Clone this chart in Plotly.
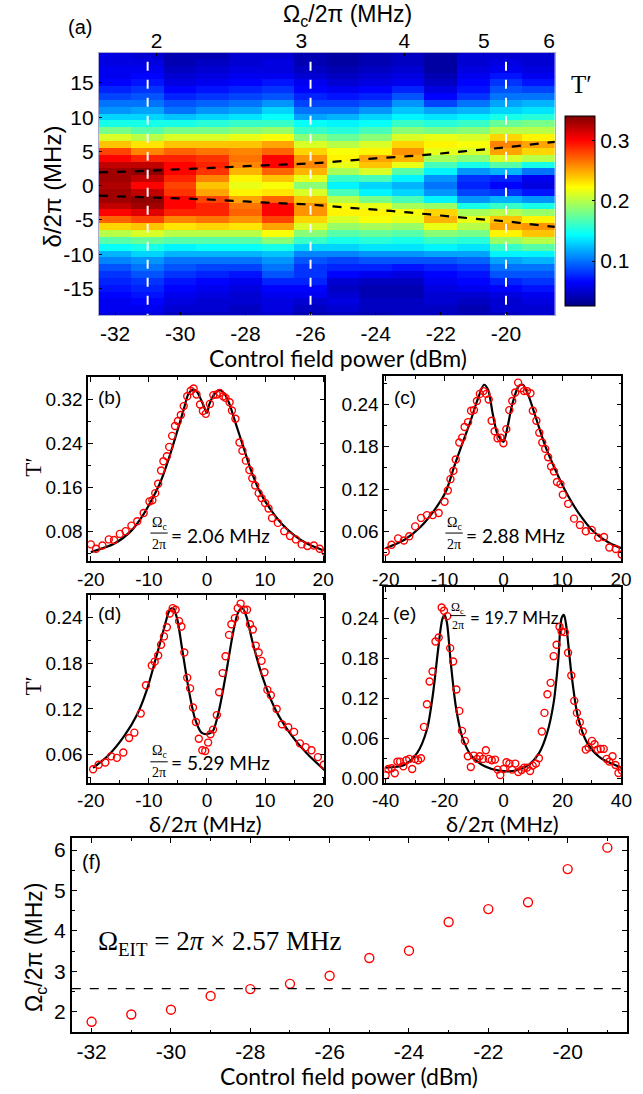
import plotly.graph_objects as go

FIG_W, FIG_H = 643, 1094


def px(x):
    return x / FIG_W


def py(y):
    return 1 - y / FIG_H


SANS = "Liberation Sans"
TITLE_FONT = "Lato"
SERIF = "Liberation Serif"

# ---------------- (a) transmission map ----------------
power_dbm = [-32, -31, -30, -29, -28, -27, -26, -25, -24, -23, -22, -21, -20, -19]
detuning = [19, 18, 17, 16, 15, 14, 13, 12, 11, 10, 9, 8, 7, 6, 5, 4, 3, 2, 1, 0,
            -1, -2, -3, -4, -5, -6, -7, -8, -9, -10, -11, -12, -13, -14, -15, -16, -17, -18, -19]

# one list per control power, T' from delta = +19 down to -19 MHz
t_map_columns = [
    [0.055, 0.055, 0.06, 0.06, 0.065, 0.075, 0.085, 0.10, 0.11, 0.13, 0.15, 0.18, 0.21, 0.24, 0.28,
     0.30, 0.32, 0.33, 0.33, 0.325, 0.33, 0.33, 0.32, 0.30, 0.27, 0.235, 0.20, 0.17, 0.145, 0.12,
     0.105, 0.09, 0.08, 0.075, 0.07, 0.065, 0.06, 0.06, 0.055],
    [0.05, 0.055, 0.06, 0.065, 0.07, 0.08, 0.09, 0.10, 0.115, 0.13, 0.15, 0.17, 0.20, 0.23, 0.26,
     0.29, 0.32, 0.335, 0.32, 0.30, 0.32, 0.335, 0.33, 0.31, 0.28, 0.24, 0.21, 0.175, 0.15, 0.13,
     0.11, 0.10, 0.09, 0.08, 0.075, 0.07, 0.065, 0.06, 0.055],
    [0.04, 0.04, 0.045, 0.05, 0.055, 0.065, 0.075, 0.09, 0.10, 0.125, 0.15, 0.18, 0.21, 0.24, 0.27,
     0.29, 0.30, 0.30, 0.29, 0.28, 0.285, 0.30, 0.30, 0.29, 0.26, 0.23, 0.20, 0.17, 0.14, 0.12,
     0.10, 0.09, 0.08, 0.07, 0.065, 0.06, 0.055, 0.05, 0.045],
    [0.04, 0.045, 0.05, 0.055, 0.06, 0.07, 0.08, 0.095, 0.11, 0.13, 0.155, 0.18, 0.21, 0.24, 0.265,
     0.285, 0.29, 0.285, 0.26, 0.24, 0.25, 0.28, 0.29, 0.29, 0.265, 0.235, 0.20, 0.17, 0.145, 0.12,
     0.10, 0.085, 0.075, 0.065, 0.06, 0.055, 0.05, 0.05, 0.045],
    [0.05, 0.05, 0.055, 0.06, 0.065, 0.075, 0.085, 0.10, 0.115, 0.135, 0.16, 0.185, 0.215, 0.24, 0.26,
     0.265, 0.26, 0.245, 0.225, 0.215, 0.225, 0.25, 0.265, 0.27, 0.255, 0.23, 0.20, 0.17, 0.145, 0.12,
     0.10, 0.085, 0.07, 0.06, 0.055, 0.05, 0.05, 0.045, 0.045],
    [0.05, 0.055, 0.055, 0.06, 0.07, 0.08, 0.09, 0.11, 0.13, 0.145, 0.16, 0.19, 0.22, 0.25, 0.27,
     0.30, 0.30, 0.27, 0.24, 0.22, 0.23, 0.27, 0.30, 0.30, 0.28, 0.25, 0.22, 0.185, 0.15, 0.125,
     0.11, 0.10, 0.09, 0.075, 0.065, 0.06, 0.055, 0.055, 0.05],
    [0.04, 0.04, 0.045, 0.05, 0.06, 0.065, 0.075, 0.085, 0.10, 0.115, 0.145, 0.16, 0.185, 0.21, 0.235,
     0.255, 0.26, 0.245, 0.215, 0.185, 0.21, 0.24, 0.255, 0.255, 0.235, 0.21, 0.185, 0.16, 0.13, 0.105,
     0.09, 0.08, 0.08, 0.075, 0.065, 0.06, 0.05, 0.045, 0.04],
    [0.035, 0.035, 0.04, 0.045, 0.05, 0.06, 0.07, 0.085, 0.10, 0.12, 0.14, 0.155, 0.175, 0.20, 0.22,
     0.225, 0.215, 0.195, 0.16, 0.14, 0.165, 0.20, 0.22, 0.225, 0.21, 0.19, 0.17, 0.15, 0.13, 0.105,
     0.085, 0.075, 0.065, 0.05, 0.045, 0.05, 0.055, 0.05, 0.045],
    [0.04, 0.04, 0.045, 0.05, 0.055, 0.065, 0.075, 0.09, 0.11, 0.13, 0.145, 0.165, 0.185, 0.21, 0.225,
     0.25, 0.24, 0.21, 0.165, 0.13, 0.14, 0.18, 0.215, 0.225, 0.22, 0.195, 0.175, 0.155, 0.135, 0.11,
     0.09, 0.075, 0.06, 0.045, 0.04, 0.04, 0.045, 0.045, 0.04],
    [0.045, 0.045, 0.05, 0.055, 0.06, 0.075, 0.09, 0.11, 0.125, 0.14, 0.16, 0.185, 0.21, 0.235, 0.255,
     0.245, 0.215, 0.17, 0.14, 0.12, 0.13, 0.165, 0.195, 0.22, 0.215, 0.19, 0.17, 0.15, 0.135, 0.11,
     0.09, 0.07, 0.055, 0.045, 0.04, 0.04, 0.045, 0.045, 0.045],
    [0.035, 0.035, 0.035, 0.04, 0.045, 0.055, 0.065, 0.085, 0.115, 0.135, 0.155, 0.18, 0.215, 0.225, 0.215,
     0.195, 0.165, 0.14, 0.11, 0.10, 0.11, 0.14, 0.19, 0.235, 0.245, 0.215, 0.185, 0.16, 0.14, 0.115,
     0.09, 0.075, 0.065, 0.06, 0.055, 0.05, 0.05, 0.045, 0.045],
    [0.05, 0.05, 0.055, 0.06, 0.065, 0.07, 0.08, 0.10, 0.12, 0.14, 0.16, 0.185, 0.21, 0.22, 0.21,
     0.185, 0.15, 0.11, 0.08, 0.075, 0.085, 0.11, 0.15, 0.195, 0.215, 0.20, 0.18, 0.155, 0.135, 0.115,
     0.095, 0.08, 0.07, 0.065, 0.06, 0.05, 0.045, 0.04, 0.04],
    [0.05, 0.055, 0.06, 0.07, 0.08, 0.09, 0.10, 0.115, 0.13, 0.15, 0.175, 0.20, 0.235, 0.26, 0.25,
     0.21, 0.17, 0.12, 0.075, 0.065, 0.08, 0.12, 0.16, 0.20, 0.24, 0.25, 0.225, 0.19, 0.16, 0.14,
     0.115, 0.10, 0.09, 0.075, 0.065, 0.055, 0.05, 0.05, 0.045],
    [0.05, 0.05, 0.055, 0.06, 0.07, 0.085, 0.10, 0.12, 0.135, 0.155, 0.18, 0.20, 0.225, 0.25, 0.235,
     0.20, 0.15, 0.10, 0.06, 0.055, 0.07, 0.11, 0.15, 0.19, 0.225, 0.255, 0.24, 0.20, 0.17, 0.14,
     0.12, 0.10, 0.09, 0.08, 0.07, 0.06, 0.055, 0.05, 0.05],
]

# peak positions traced over the map
split_power = [-32.5, -31, -30, -29, -28, -27, -26, -25, -24, -23, -22, -21, -20, -19, -18.5]
split_upper = [1.93, 2.17, 2.4, 2.6, 2.85, 3.05, 3.25, 3.6, 4.0, 4.3, 4.7, 5.15, 5.6, 6.15, 6.4]
split_lower = [-1.45, -1.7, -1.85, -2.05, -2.3, -2.55, -2.75, -3.15, -3.5, -3.9, -4.35, -4.8, -5.2, -5.75, -6.0]

# control powers of the line cuts shown in (b)-(d)
cut_power = [-31, -26, -20]

map_x_ticks = [-32, -30, -28, -26, -24, -22, -20]
map_x_labels = ["-32", "-30", "-28", "-26", "-24", "-22", "-20"]
map_y_ticks = [-15, -10, -5, 0, 5, 10, 15]
map_y_labels = ["-15", "-10", "-5", "0", "5", "10", "15"]
rabi_ticks = [2, 3, 4, 5, 6]
rabi_labels = ["2", "3", "4", "5", "6"]
cbar_ticks = [0.1, 0.2, 0.3]

# ---------------- (b)-(e) line cuts ----------------
b_det = [-20.0, -19.1, -18.0, -16.9, -16.0, -15.0, -14.0, -13.0, -12.0, -10.9,
         -9.9, -9.4, -8.9, -8.4, -7.9, -7.5, -6.9, -6.5, -6.0, -5.5,
         -5.0, -4.5, -4.0, -3.4, -2.8, -2.3, -1.8, -1.2, -0.7, -0.2,
         0.5, 1.1, 1.7, 2.2, 2.8, 3.2, 3.9, 4.3, 4.9, 5.6,
         6.1, 6.7, 7.3, 7.8, 8.3, 8.9, 9.4, 10.0, 10.6, 11.2,
         12.2, 13.3, 14.3, 15.3, 16.3, 17.3, 18.4, 19.4, 20.4]
b_t = [0.057, 0.049, 0.055, 0.066, 0.065, 0.076, 0.081, 0.091, 0.099, 0.114,
       0.135, 0.137, 0.150, 0.167, 0.191, 0.208, 0.217, 0.234, 0.254, 0.272,
       0.281, 0.292, 0.308, 0.326, 0.336, 0.340, 0.329, 0.311, 0.299, 0.294,
       0.312, 0.328, 0.329, 0.332, 0.326, 0.323, 0.315, 0.300, 0.285, 0.242,
       0.227, 0.209, 0.192, 0.177, 0.164, 0.150, 0.141, 0.132, 0.122, 0.105,
       0.096, 0.081, 0.072, 0.066, 0.057, 0.054, 0.055, 0.049, 0.043]
b_fit_det = [-20, -16, -13, -10.9, -9.25, -7.9, -6.5, -5.1, -4.0, -3.2,
             -2.4, -1.8, -0.9, 0.0, 0.4, 1.3, 2.2, 2.9, 3.8, 4.9,
             6.3, 7.6, 9.0, 10.7, 12.9, 15.1, 17.3, 20.1]
b_fit_t = [0.043, 0.058, 0.082, 0.112, 0.143, 0.173, 0.215, 0.263, 0.302, 0.330,
           0.338, 0.335, 0.317, 0.296, 0.311, 0.330, 0.337, 0.332, 0.314, 0.278,
           0.233, 0.191, 0.155, 0.124, 0.094, 0.073, 0.058, 0.046]

c_det = [-20.0, -19.0, -17.9, -16.9, -16.0, -15.0, -14.0, -13.0, -12.0, -11.0,
         -10.0, -9.45, -9.0, -8.5, -8.1, -7.5, -7.0, -6.6, -6.0, -5.5,
         -5.0, -4.5, -4.0, -3.4, -2.9, -2.5, -2.0, -1.5, -1.0, -0.5,
         0.0, 0.5, 1.0, 1.5, 2.0, 2.5, 3.0, 3.5, 4.0, 4.6,
         5.0, 5.6, 6.1, 6.6, 7.1, 7.6, 8.1, 8.6, 9.1, 9.7,
         10.1, 11.0, 12.0, 13.0, 14.0, 15.0, 16.1, 17.1, 18.0, 19.1, 20.1]
c_t = [0.031, 0.041, 0.050, 0.047, 0.053, 0.067, 0.079, 0.083, 0.083, 0.086,
       0.102, 0.118, 0.134, 0.146, 0.162, 0.186, 0.193, 0.208, 0.215, 0.231,
       0.232, 0.245, 0.255, 0.259, 0.255, 0.247, 0.217, 0.202, 0.192, 0.193,
       0.185, 0.205, 0.232, 0.245, 0.257, 0.271, 0.263, 0.259, 0.259, 0.256,
       0.231, 0.217, 0.200, 0.186, 0.177, 0.165, 0.152, 0.145, 0.130, 0.127,
       0.112, 0.099, 0.078, 0.069, 0.060, 0.062, 0.051, 0.052, 0.037, 0.035, 0.027]
c_fit_det = [-20, -16.8, -14.1, -11.4, -9.7, -8.4, -7.0, -5.6, -4.3, -3.3,
             -2.6, -1.8, -1.0, 0.0, 0.55, 1.5, 2.6, 3.3, 4.2, 5.6,
             7.2, 8.9, 10.5, 12.7, 15.4, 18.1, 20.1]
c_fit_t = [0.036, 0.048, 0.066, 0.094, 0.118, 0.151, 0.184, 0.216, 0.249, 0.268,
           0.261, 0.226, 0.198, 0.187, 0.202, 0.240, 0.266, 0.268, 0.254, 0.219,
           0.179, 0.146, 0.118, 0.087, 0.059, 0.043, 0.036]

d_det = [-19.6, -18.65, -17.5, -16.5, -15.5, -14.4, -13.4, -12.5, -11.4, -10.5,
         -9.5, -9.0, -8.4, -7.9, -7.4, -6.9, -6.4, -5.9, -5.4, -4.8,
         -4.4, -3.9, -3.4, -2.9, -2.4, -1.9, -1.4, -0.8, -0.3, 0.2,
         0.6, 1.05, 1.7, 2.1, 2.7, 3.2, 3.8, 4.2, 4.8, 5.3,
         5.8, 6.4, 6.9, 7.4, 7.9, 8.4, 8.9, 9.4, 9.9, 10.4,
         11.0, 12.0, 12.9, 14.0, 15.0, 16.0, 17.0, 18.0, 19.1, 20.1]
d_t = [0.041, 0.047, 0.050, 0.058, 0.056, 0.063, 0.082, 0.089, 0.114, 0.151,
       0.177, 0.182, 0.190, 0.204, 0.215, 0.227, 0.245, 0.252, 0.250, 0.235,
       0.228, 0.194, 0.161, 0.147, 0.122, 0.103, 0.081, 0.066, 0.065, 0.076,
       0.087, 0.093, 0.112, 0.142, 0.167, 0.189, 0.217, 0.231, 0.239, 0.252,
       0.258, 0.250, 0.250, 0.231, 0.224, 0.203, 0.194, 0.183, 0.168, 0.145,
       0.138, 0.120, 0.100, 0.096, 0.090, 0.075, 0.070, 0.066, 0.057, 0.047]
d_fit_det = [-19.6, -17, -14.2, -12, -10.35, -8.7, -7.3, -6.4, -5.8, -5.1,
             -4.3, -3.15, -2.05, -0.94, 0.0, 1.0, 2.1, 3.5, 4.6, 5.4,
             6.1, 6.8, 7.9, 9.6, 11.8, 14.6, 17.3, 20.4]
d_fit_t = [0.043, 0.059, 0.085, 0.113, 0.145, 0.189, 0.228, 0.250, 0.252, 0.237,
           0.200, 0.146, 0.107, 0.089, 0.087, 0.091, 0.119, 0.176, 0.224, 0.247,
           0.252, 0.241, 0.206, 0.161, 0.119, 0.085, 0.061, 0.039]

e_det = [-40, -39.1, -38, -36.9, -36, -35.1, -34, -33, -32, -31,
         -30, -29, -28, -27, -26, -25.1, -24.1, -23.1, -22, -21,
         -20.2, -19.1, -18.1, -17.1, -16, -15, -14.1, -13.1, -12.1, -11.1,
         -10.1, -9, -8.1, -7, -6, -5, -4, -2.9, -2, -1.1,
         0, 1, 2, 2.9, 4, 5, 6.1, 7, 8, 9,
         9.9, 11, 12, 13, 13.9, 14.9, 16, 17, 18, 19,
         19.7, 20.8, 21.9, 23, 24, 24.9, 25.9, 26.9, 27.9, 28.9,
         30, 30.9, 31.9, 33, 34, 35, 35.9, 37, 38, 39, 40.1]
e_t = [0.0045, 0.014, 0.015, 0.0075, 0.025, 0.025, 0.018, 0.027, 0.029, 0.014,
       0.029, 0.027, 0.030, 0.077, 0.111, 0.145, 0.160, 0.205, 0.211, 0.256,
       0.251, 0.243, 0.195, 0.175, 0.133, 0.101, 0.071, 0.056, 0.033, 0.017,
       0.034, 0.029, 0.033, 0.029, 0.042, 0.029, 0.027, 0.028, 0.013, 0.005,
       0.014, 0.024, 0.022, 0.013, 0.022, 0.0095, 0.0125, 0.016, 0.016, 0.011,
       0.019, 0.022, 0.030, 0.070, 0.098, 0.126, 0.143, 0.183, 0.200, 0.227,
       0.220, 0.219, 0.188, 0.154, 0.116, 0.098, 0.084, 0.070, 0.043, 0.046,
       0.056, 0.051, 0.043, 0.044, 0.044, 0.029, 0.025, 0.033, 0.020, 0.008, 0.012]
e_fit_det = [-40, -33.7, -29.3, -26, -23.9, -22.2, -20.8, -20, -19.2, -17.9,
             -16.2, -14.1, -10.8, -6.4, -1, 4.5, 8.8, 12.1, 14.8, 17,
             18.6, 19.7, 20.5, 21.3, 23, 25.2, 28.4, 32.8, 40]
e_fit_t = [0.016, 0.020, 0.038, 0.073, 0.128, 0.193, 0.238, 0.245, 0.233, 0.173,
           0.108, 0.063, 0.033, 0.018, 0.011, 0.012, 0.021, 0.038, 0.068, 0.113,
           0.178, 0.240, 0.245, 0.228, 0.158, 0.093, 0.053, 0.031, 0.016]

cut_rabi_labels = ["2.06", "2.88", "5.29", "19.7"]

# ---------------- (f) fitted Rabi frequency ----------------
f_power = [-32, -31, -30, -29, -28, -27, -26, -25, -24, -23, -22, -21, -20, -19]
f_rabi = [1.75, 1.93, 2.05, 2.39, 2.56, 2.69, 2.89, 3.33, 3.51, 4.22, 4.54, 4.71, 5.53, 6.06]
omega_eit = 2.57

# MATLAB-style jet
jet = [[0.0, "rgb(0,0,131)"], [0.125, "rgb(0,0,255)"], [0.375, "rgb(0,255,255)"],
       [0.625, "rgb(255,255,0)"], [0.875, "rgb(255,0,0)"], [1.0, "rgb(128,0,0)"]]

fig = go.Figure()

z = [list(row) for row in zip(*t_map_columns)]
fig.add_trace(go.Heatmap(
    x=power_dbm, y=detuning, z=z, colorscale=jet, zmin=0.025, zmax=0.34,
    xaxis="x", yaxis="y", zsmooth=False,
    colorbar=dict(
        x=px(573), xanchor="left", xpad=0, y=py(318), yanchor="bottom",
        len=210, lenmode="pixels", thickness=30, thicknessmode="pixels",
        outlinecolor="black", outlinewidth=1, tickvals=cbar_ticks, tickformat=".1f",
        ticks="inside", ticklen=3, tickcolor="black",
        tickfont=dict(family=SANS, size=21, color="black"),
    ),
))
for split in (split_upper, split_lower):
    fig.add_trace(go.Scatter(x=split_power, y=split, mode="lines", xaxis="x", yaxis="y",
                             line=dict(color="black", width=2.2, dash="dash", shape="spline"),
                             showlegend=False))
for p in cut_power:
    fig.add_trace(go.Scatter(x=[p, p], y=[-20, 20], mode="lines", xaxis="x", yaxis="y",
                             line=dict(color="white", width=2, dash="dash"), showlegend=False))
# empty trace so the Rabi-frequency axis on top is drawn
fig.add_trace(go.Scatter(x=[], y=[], xaxis="x2", yaxis="y", showlegend=False))

panels = [
    ("x3", "y3", b_det, b_t, b_fit_det, b_fit_t),
    ("x4", "y4", c_det, c_t, c_fit_det, c_fit_t),
    ("x5", "y5", d_det, d_t, d_fit_det, d_fit_t),
    ("x6", "y6", e_det, e_t, e_fit_det, e_fit_t),
]
for xa, ya, dx, dy, fx, fy in panels:
    fig.add_trace(go.Scatter(x=fx, y=fy, mode="lines", xaxis=xa, yaxis=ya,
                             line=dict(color="black", width=2.2, shape="spline", smoothing=0.8),
                             showlegend=False, cliponaxis=True))
    fig.add_trace(go.Scatter(x=dx, y=dy, mode="markers", xaxis=xa, yaxis=ya,
                             marker=dict(symbol="circle-open", size=7, color="red",
                                         line=dict(width=1.4, color="red")),
                             showlegend=False, cliponaxis=True))

fig.add_trace(go.Scatter(x=f_power, y=f_rabi, mode="markers", xaxis="x7", yaxis="y7",
                         marker=dict(symbol="circle-open", size=9, color="red",
                                     line=dict(width=1.4, color="red")),
                         showlegend=False))


def framed(dom, rng, tickvals, ticktext=None, minor=None, size=19, **kw):
    ax = dict(domain=dom, range=rng, tickvals=tickvals, showline=True, linecolor="black",
              linewidth=1.6, mirror="ticks", ticks="inside", ticklen=5, tickwidth=1.2,
              tickcolor="black", showgrid=False, zeroline=False,
              tickfont=dict(family=SANS, size=size, color="black"))
    if ticktext is not None:
        ax["ticktext"] = ticktext
    if minor is not None:
        ax["minor"] = dict(ticks="inside", ticklen=3, tickwidth=1, tickcolor="black", dtick=minor)
    ax.update(kw)
    return ax


def xdom(a, b):
    return [px(a), px(b)]


def ydom(top, bottom):
    return [py(bottom), py(top)]


layout = dict(
    width=FIG_W, height=FIG_H, margin=dict(l=0, r=0, t=0, b=0),
    paper_bgcolor="white", plot_bgcolor="white", showlegend=False,
    font=dict(family=SANS, color="black"),
    xaxis=dict(domain=xdom(90, 563), range=[-32.5, -18.5], tickvals=map_x_ticks,
               ticktext=map_x_labels, ticks="inside", ticklen=3, tickcolor="black",
               showline=True, linecolor="#a8a8d0", linewidth=1, mirror=True,
               showgrid=False, zeroline=False, anchor="y",
               tickfont=dict(family=SANS, size=21, color="black")),
    yaxis=dict(domain=ydom(53, 317), range=[-18.9, 19.4], tickvals=map_y_ticks,
               ticktext=map_y_labels, ticks="inside", ticklen=3, tickcolor="black",
               showline=True, linecolor="#a8a8d0", linewidth=1, mirror=True,
               showgrid=False, zeroline=False, anchor="x",
               tickfont=dict(family=SANS, size=21, color="black")),
    xaxis2=dict(overlaying="x", side="top", type="log", range=[0.2307, 0.7852],
                tickvals=rabi_ticks, ticktext=rabi_labels, ticks="inside", ticklen=3,
                tickcolor="black", showline=False, showgrid=False, zeroline=False,
                anchor="y", tickfont=dict(family=SANS, size=21, color="black")),
    xaxis3=framed(xdom(79, 324), [-20.45, 20.22], [-20, -10, 0, 10, 20],
                  ["-20", "-10", "0", "10", "20"], minor=5, anchor="y3"),
    yaxis3=framed(ydom(379, 564), [0.027, 0.361], [0.08, 0.16, 0.24, 0.32],
                  ["0.08", "0.16", "0.24", "0.32"], minor=0.04, anchor="x3"),
    xaxis4=framed(xdom(386, 632), [-20.26, 20.05], [-20, -10, 0, 10, 20],
                  ["-20", "-10", "0", "10", "20"], minor=5, anchor="y4"),
    yaxis4=framed(ydom(378, 564), [0.018, 0.2805], [0.06, 0.12, 0.18, 0.24],
                  ["0.06", "0.12", "0.18", "0.24"], minor=0.03, anchor="x4"),
    xaxis5=framed(xdom(79, 324), [-20.45, 20.22], [-20, -10, 0, 10, 20],
                  ["-20", "-10", "0", "10", "20"], minor=5, anchor="y5"),
    yaxis5=framed(ydom(598, 787), [0.0235, 0.2696], [0.06, 0.12, 0.18, 0.24],
                  ["0.06", "0.12", "0.18", "0.24"], minor=0.03, anchor="x5"),
    xaxis6=framed(xdom(386, 632), [-40.5, 40.0], [-40, -20, 0, 20, 40],
                  ["-40", "-20", "0", "20", "40"], minor=10, anchor="y6"),
    yaxis6=framed(ydom(590, 787), [-0.0066, 0.287], [0.0, 0.06, 0.12, 0.18, 0.24],
                  ["0.00", "0.06", "0.12", "0.18", "0.24"], minor=0.03, anchor="x6"),
    xaxis7=framed(xdom(62, 638), [-32.5, -18.5], map_x_ticks, map_x_labels,
                  minor=1, size=21, anchor="y7"),
    yaxis7=framed(ydom(843, 1038), [1.49, 6.29], [2, 3, 4, 5, 6],
                  ["2", "3", "4", "5", "6"], minor=0.5, size=21, anchor="x7"),
)

annotations = []
shapes = []


def note(text, x, y, size, family=SANS, angle=0, xanchor="center", yanchor="middle"):
    annotations.append(dict(text=text, x=px(x), y=py(y), xref="paper", yref="paper",
                            showarrow=False, textangle=angle, xanchor=xanchor,
                            yanchor=yanchor, borderpad=0,
                            font=dict(family=family, size=size, color="black")))


# panel (a) labels
note("(a)", 71, 27, 20)
note("Ω<sub>c</sub>/2π (MHz)", 348, 16, 23)
note("δ/2π (MHz)", 42, 187, 24, angle=-90)
note("Control field power (dBm)", 338, 360, 23, family=TITLE_FONT)
note("T′", 591, 85, 25, family=SERIF)

# line-cut panels
note("(b)", 101, 400, 19)
note("(c)", 408, 400, 19)
note("(d)", 101, 617, 19)
note("(e)", 407, 617, 19)
note("T′", 22, 470, 23, family=SERIF, angle=-90)
note("T′", 22, 690, 23, family=SERIF, angle=-90)
note("δ/2π (MHz)", 201, 828, 22, family=TITLE_FONT)
note("δ/2π (MHz)", 509, 828, 22, family=TITLE_FONT)


def ratio_label(cx, y_num, y_bar, y_den, x_rhs, y_rhs, value, fsize, rsize, half):
    note("Ω<sub>c</sub>", cx, y_num, fsize, family=SERIF)
    note("2π", cx, y_den, fsize, family=SERIF)
    shapes.append(dict(type="line", xref="paper", yref="paper", x0=px(cx - half),
                       x1=px(cx + half), y0=py(y_bar), y1=py(y_bar),
                       line=dict(color="black", width=1)))
    note("= " + value + " MHz", x_rhs, y_rhs, rsize, family=TITLE_FONT, xanchor="left")


ratio_label(152.5, 526, 536, 547, 164, 538, cut_rabi_labels[0], 14, 19, 9)
ratio_label(458.5, 526, 536, 547, 470, 538, cut_rabi_labels[1], 14, 19, 9)
ratio_label(152.5, 756, 766, 777, 164, 767, cut_rabi_labels[2], 14, 19, 9)
ratio_label(462.5, 611, 619, 628, 474, 621, cut_rabi_labels[3], 12, 17, 8)

# panel (f)
note("(f)", 82, 867, 20)
note("Ω<sub>EIT</sub> = 2<i>π</i> × " + f"{omega_eit:.2f}" + " MHz", 88, 948, 27,
     family=SERIF, xanchor="left")
note("Ω<sub>c</sub>/2π (MHz)", 25, 953, 23, angle=-90)
note("Control field power (dBm)", 350, 1082, 23, family=TITLE_FONT)
shapes.append(dict(type="line", xref="x7 domain", yref="y7", x0=0, x1=1,
                   y0=omega_eit, y1=omega_eit, line=dict(color="black", width=1.3, dash="dash")))

layout["annotations"] = annotations
layout["shapes"] = shapes
fig.update_layout(**layout)

fig.write_html("out.html")
